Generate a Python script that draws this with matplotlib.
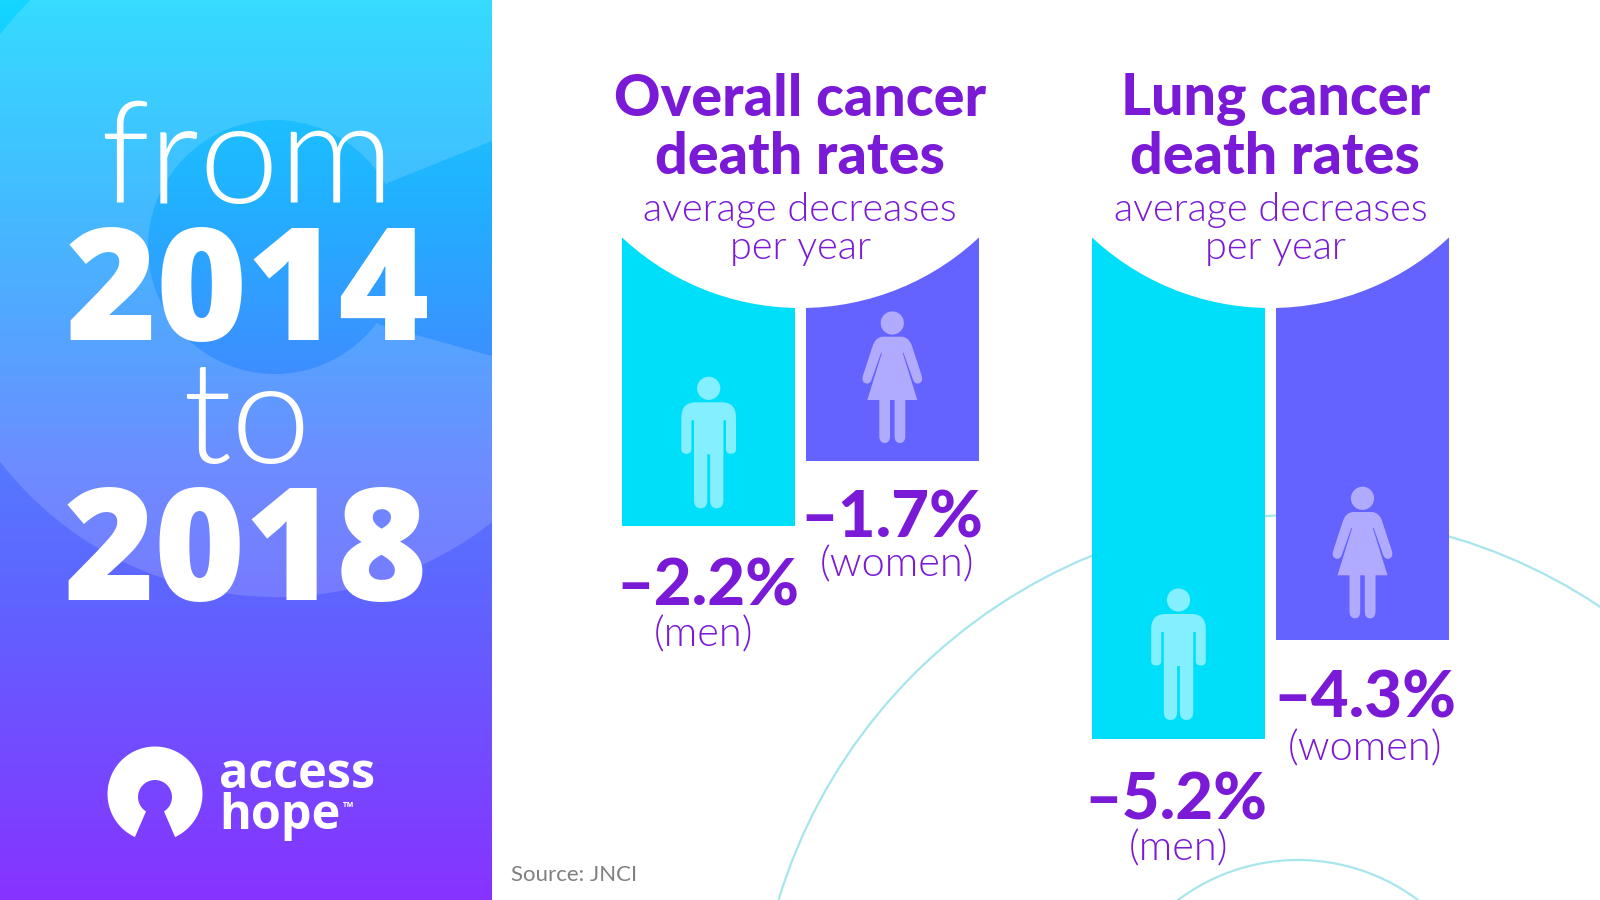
import matplotlib
matplotlib.use("Agg")
import matplotlib.pyplot as plt
import numpy as np
from matplotlib.colors import LinearSegmentedColormap
from matplotlib.patches import Circle, PathPatch, Polygon, Rectangle
from matplotlib.path import Path

W, H = 1600, 900

panel_titles = [["Overall cancer", "death rates"], ["Lung cancer", "death rates"]]
subtitle_lines = ["average decreases", "per year"]
groups = ["men", "women"]
overall_rates = [-2.2, -1.7]
lung_rates = [-5.2, -4.3]
overall_labels = ["–2.2%", "–1.7%"]
lung_labels = ["–5.2%", "–4.3%"]

CYAN = "#00DFF9"
VIOLET = "#6563FF"
CYAN_ICON = "#84EFFF"
VIOLET_ICON = "#B0ABFF"
PURPLE = "#7A19D6"
TEAL_LINE = "#A6E6EC"

HEAVY = "Lato"
WIDE = "Open Sans"
LIGHT = "Lato"


def axes_px(fig, x0, y0, x1, y1, zorder):
    # axes placed with pixel corners, y measured from the top
    ax = fig.add_axes([x0 / W, 1 - y1 / H, (x1 - x0) / W, (y1 - y0) / H], zorder=zorder)
    ax.axis("off")
    ax.patch.set_alpha(0)
    return ax


def mirrored_path(half):
    # half is a list of (code, x, y) for the right side, top to bottom
    verts = [(x, y) for _, x, y in half]
    codes = [c for c, _, _ in half]
    back_v = [(-x, y) for x, y in verts[::-1]]
    back_c = []
    rev = codes[::-1]
    for i in range(len(rev)):
        # codes belong to the end of a segment, so shift them when walking back
        back_c.append(rev[i - 1] if i > 0 else Path.LINETO)
    return Path(verts + back_v + [verts[0]], [Path.MOVETO] + codes[1:] + back_c + [Path.CLOSEPOLY])


L, Q = Path.LINETO, Path.CURVE3
man_half = [
    (L, 0, 14), (L, 13, 14), (Q, 27.3, 14), (Q, 27.3, 29), (L, 27.3, 61), (Q, 27.3, 65.5), (Q, 22.3, 65.5),
    (Q, 17.3, 65.5), (Q, 17.3, 61), (L, 17.3, 32), (L, 14.7, 32), (L, 14.7, 112), (Q, 14.7, 120), (Q, 8, 120),
    (Q, 1.4, 120), (Q, 1.4, 112), (L, 1.4, 66), (L, 0, 66),
]
woman_half = [
    (L, 0, 13.7), (L, 9, 13.7), (Q, 17, 13.7), (Q, 20, 24), (L, 29.5, 53), (Q, 31, 59.5), (Q, 26, 60.5),
    (Q, 22, 61), (Q, 20.5, 56), (L, 11.2, 29.7), (L, 10.3, 29.7), (L, 25, 77), (L, 13, 77), (L, 13, 113),
    (Q, 13, 120), (Q, 7.5, 120), (Q, 2.3, 120), (Q, 2.3, 113), (L, 2.3, 77), (L, 0, 77),
]


def draw_person(ax, cx, cy, half, color):
    ax.add_patch(Circle((cx, cy), 11.6, fc=color, ec="none"))
    p = mirrored_path(half)
    ax.add_patch(PathPatch(Path(p.vertices + [cx, cy], p.codes), fc=color, ec="none"))


def logo_path(cx, cy):
    # ring mark of the logo: outer disc with a keyhole cut out of the bottom
    out = np.radians(np.linspace(115, 425, 90))
    inner = np.radians(np.linspace(58, -238, 50))
    xs = np.r_[cx + 47.5 * np.cos(out), cx + 17 * np.cos(inner)]
    ys = np.r_[cy + 47.5 * np.sin(out), cy + 3 + 17 * np.sin(inner)]
    return np.c_[xs, ys]


fig = plt.figure(figsize=(W / 100, H / 100), dpi=100, facecolor="white")
back = axes_px(fig, 0, 0, W, H, 0)
back.set_xlim(0, W)
back.set_ylim(H, 0)

# left panel gradient
stops = [(0, "#13D5FF"), (200 / 900, "#22B0FF"), (360 / 900, "#3C90FF"), (470 / 900, "#5578FF"),
         (610 / 900, "#6062FF"), (1, "#8733FF")]
cmap = LinearSegmentedColormap.from_list("panel", stops)
grad = np.linspace(0, 1, 900).reshape(-1, 1)
extent = (0, 492, 900, 0)
back.imshow(grad, cmap=cmap, extent=extent, aspect="auto", zorder=1, vmin=0, vmax=1)
panel_rect = Rectangle((0, 0), 492, 900, transform=back.transData)
glow = Circle((276, 248), 349, fc="white", ec="none", alpha=0.15, zorder=2)
back.add_patch(glow)
glow.set_clip_path(panel_rect)

# darker disc and wedge are the plain gradient showing through
disc = Circle((275, 247), 127, transform=back.transData)
wedge = Polygon([(275, 247), (390, 182), (492, 141), (492, 356), (380, 325)], transform=back.transData)
for clip in (disc, wedge):
    im = back.imshow(grad, cmap=cmap, extent=extent, aspect="auto", zorder=3, vmin=0, vmax=1)
    im.set_clip_path(clip)

back.set_xlim(0, W)
back.set_ylim(H, 0)

back.text(247, 203, "from", family=LIGHT, weight=300, fontsize=103, color="white", ha="center", va="baseline", zorder=5)
back.text(248, 340, "2014", family=WIDE, weight=800, fontsize=112, color="white", ha="center", va="baseline", zorder=5)
back.text(247, 463, "to", family=LIGHT, weight=300, fontsize=103, color="white", ha="center", va="baseline", zorder=5)
back.text(246, 600, "2018", family=WIDE, weight=800, fontsize=112, color="white", ha="center", va="baseline", zorder=5)

back.add_patch(Polygon(logo_path(155, 794), closed=True, fc="white", ec="none", zorder=5))
back.text(219, 788, "access", family=WIDE, weight=700, fontsize=35, color="white", ha="left", va="baseline", zorder=5)
back.text(219, 829, "hope", family=WIDE, weight=700, fontsize=35, color="white", ha="left", va="baseline", zorder=5)
back.text(343, 811, "™", family=WIDE, weight=700, fontsize=10, color="white", ha="left", va="baseline", zorder=5)

# thin decorative rings behind the bars
back.add_patch(Circle((1298, 1058), 543, fc="none", ec=TEAL_LINE, lw=1.6, zorder=1))
back.add_patch(Circle((1298, 1060), 200, fc="none", ec=TEAL_LINE, lw=1.6, zorder=1))
back.text(511, 881, "Source: JNCI", family=LIGHT, weight=400, fontsize=16, color="#808080", ha="left", va="baseline")

# bars: each chart has its own truncated scale, both start under the arc
chart1 = axes_px(fig, 622, 230, 979, 530, 1)
chart1.set_xlim(-0.47, 1.47)
chart1.set_ylim(-2.231, 0.077)
chart1.bar([0, 1], np.array(overall_rates) - 0.077, bottom=0.077, width=0.94, color=[CYAN, VIOLET])

chart2 = axes_px(fig, 1092, 230, 1449, 745, 1)
chart2.set_xlim(-0.47, 1.47)
chart2.set_ylim(-5.2545, -0.573)
chart2.bar([0, 1], np.array(lung_rates) + 0.573, bottom=-0.573, width=0.94, color=[CYAN, VIOLET])

# white arcs and everything on top
top = axes_px(fig, 0, 0, W, H, 2)
top.set_xlim(0, W)
top.set_ylim(H, 0)
top.add_patch(Circle((800.5, 47), 261, fc="white", ec="none", zorder=1))
top.add_patch(Circle((1270.5, 47), 261, fc="white", ec="none", zorder=1))

draw_person(top, 708.7, 388.3, man_half, CYAN_ICON)
draw_person(top, 892.3, 323, woman_half, VIOLET_ICON)
draw_person(top, 1178.5, 600, man_half, CYAN_ICON)
draw_person(top, 1362.5, 498.3, woman_half, VIOLET_ICON)

for cx, lines in zip([800, 1275.5], panel_titles):
    for y, line in zip([115.5, 174.5], lines):
        top.text(cx, y, line, family=HEAVY, weight=900, fontsize=41.4, color=PURPLE, ha="center", va="baseline", zorder=3)
for cx, line, y in [(800, subtitle_lines[0], 220.5), (800, subtitle_lines[1], 258.5),
                    (1270.5, subtitle_lines[0], 220.5), (1275.5, subtitle_lines[1], 258.5)]:
    top.text(cx, y, line, family=LIGHT, weight=300, fontsize=28.5, color=PURPLE, ha="center", va="baseline", zorder=3)

value_pos = [(708, 605), (892, 538), (1176, 819), (1365, 717)]
group_pos = [(703, 647), (897, 576), (1178.5, 860), (1365, 760)]
for (x, y), label in zip(value_pos, overall_labels + lung_labels):
    top.text(x, y, label, family=HEAVY, weight=900, fontsize=47, color=PURPLE, ha="center", va="baseline", zorder=3)
for (x, y), g in zip(group_pos, groups + groups):
    top.text(x, y, f"({g})", family=LIGHT, weight=300, fontsize=30, color=PURPLE, ha="center", va="baseline", zorder=3)

fig.savefig("out.png", dpi=100)
